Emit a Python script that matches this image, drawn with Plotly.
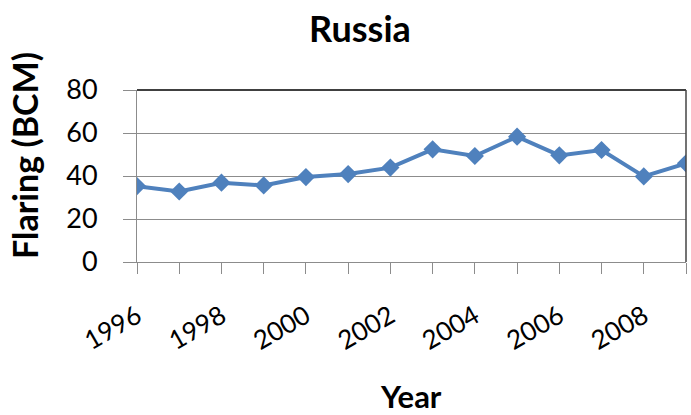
import plotly.graph_objects as go

years = [1996, 1997, 1998, 1999, 2000, 2001, 2002, 2003, 2004, 2005, 2006, 2007, 2008, 2009]
flaring = [35.3, 32.8, 36.9, 35.6, 39.5, 40.9, 43.9, 52.4, 49.3, 58.3, 49.6, 52.1, 39.8, 45.9]
x_tick_vals = [1996, 1998, 2000, 2002, 2004, 2006, 2008]
y_tick_vals = [0, 20, 40, 60, 80]

FONT = "Lato, 'Open Sans', sans-serif"
BLUE = "#4F81BD"
GRID = "#8C8C8C"

# plot area in page pixels: x 137..686, y 90..262
L, R, T, B = 137, 686, 90, 262
W, H = 691, 415

def px(x):
    return (x - L) / (R - L)

def py(y):
    return (B - y) / (B - T)

fig = go.Figure()
fig.add_trace(go.Scatter(
    x=years, y=flaring, mode="lines+markers",
    line=dict(color=BLUE, width=4),
    marker=dict(symbol="diamond", size=14, color=BLUE),
    showlegend=False,
))

fig.update_layout(
    width=W, height=H,
    margin=dict(l=L, r=W - R, t=T, b=H - B),
    paper_bgcolor="white", plot_bgcolor="white",
    font=dict(family=FONT, color="black"),
    xaxis=dict(
        range=[1996, 2009], tickmode="array", tickvals=x_tick_vals,
        ticktext=[str(v) for v in x_tick_vals],
        tickangle=-30, tickfont=dict(size=26, family=FONT),
        ticks="", showgrid=False, zeroline=False,
        showline=True, linecolor=GRID, linewidth=1,
        ticklabelstandoff=28,
    ),
    yaxis=dict(
        range=[0, 80], tickvals=y_tick_vals, tickfont=dict(size=27, family=FONT),
        ticks="outside", ticklen=13, tickcolor=GRID, tickwidth=1,
        showgrid=True, gridcolor=GRID, gridwidth=1, zeroline=False,
        showline=True, linecolor=GRID, linewidth=1,
        ticklabelstandoff=20,
    ),
)

# minor x ticks at every year
fig.update_xaxes(minor=dict(tickvals=years, ticks="outside", ticklen=11, tickcolor=GRID, tickwidth=1))

# top and right border of plot area
fig.add_shape(type="line", xref="paper", yref="paper", x0=0, x1=1, y0=1, y1=1,
              line=dict(color="black", width=1.5))
fig.add_shape(type="line", xref="paper", yref="paper", x0=1, x1=1, y0=0, y1=1,
              line=dict(color="#444444", width=1.5))

fig.add_annotation(text="<b>Russia</b>", xref="paper", yref="paper",
                   x=px(360), y=py(28), showarrow=False,
                   font=dict(size=36, family=FONT), xanchor="center", yanchor="middle")
fig.add_annotation(text="<b>Year</b>", xref="paper", yref="paper",
                   x=px(411), y=py(396), showarrow=False,
                   font=dict(size=31, family=FONT), xanchor="center", yanchor="middle")
fig.add_annotation(text="<b>Flaring (BCM)</b>", xref="paper", yref="paper",
                   x=px(24), y=py(156), showarrow=False, textangle=-90,
                   font=dict(size=34, family=FONT), xanchor="center", yanchor="middle")

fig.write_html("out.html", config={"displayModeBar": False},
               post_script="document.body.style.margin='0';document.body.style.overflow='hidden';")
